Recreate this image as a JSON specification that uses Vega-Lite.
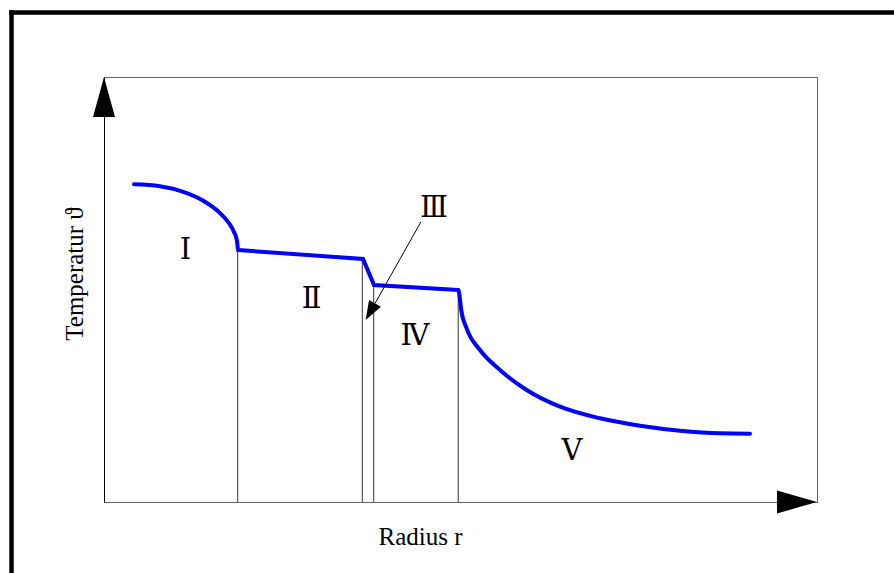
{
  "$schema": "https://vega.github.io/schema/vega-lite/v6.json",
  "width": 713,
  "height": 425,
  "autosize": {"type": "none"},
  "padding": {"left": 104, "top": 77, "right": 77, "bottom": 71},
  "background": "white",
  "view": {"stroke": "#666", "strokeWidth": 1},
  "datasets": {
    "curves": [
      {"seg": "A", "r": 4.21, "T": 74.75},
      {"seg": "A", "r": 7.85, "T": 74.31},
      {"seg": "A", "r": 11.12, "T": 72.96},
      {"seg": "A", "r": 13.93, "T": 70.87},
      {"seg": "A", "r": 16.27, "T": 67.98},
      {"seg": "A", "r": 17.39, "T": 65.93},
      {"seg": "A", "r": 18.23, "T": 63.55},
      {"seg": "A", "r": 18.65, "T": 61.46},
      {"seg": "A", "r": 18.79, "T": 59.29},
      {"seg": "C", "r": 49.72, "T": 49.88},
      {"seg": "C", "r": 49.86, "T": 48.6},
      {"seg": "C", "r": 50.1, "T": 45.18},
      {"seg": "C", "r": 50.87, "T": 40.8},
      {"seg": "C", "r": 52.73, "T": 35.76},
      {"seg": "C", "r": 55.54, "T": 31.06},
      {"seg": "C", "r": 59.28, "T": 26.35},
      {"seg": "C", "r": 63.96, "T": 22.42},
      {"seg": "C", "r": 69.57, "T": 19.69},
      {"seg": "C", "r": 75.18, "T": 17.95},
      {"seg": "C", "r": 80.79, "T": 16.78},
      {"seg": "C", "r": 86.4, "T": 16.16},
      {"seg": "C", "r": 90.6, "T": 16.07}
    ],
    "straight": [
      {"r": 18.79, "T": 59.29},
      {"r": 36.33, "T": 57.18},
      {"r": 37.87, "T": 51.06},
      {"r": 49.72, "T": 49.88}
    ],
    "bounds": [
      {"r": 18.75, "T": 0, "T2": 59.29},
      {"r": 36.23, "T": 0, "T2": 57.18},
      {"r": 37.83, "T": 0, "T2": 51.06},
      {"r": 49.68, "T": 0, "T2": 49.88}
    ],
    "labels": [
      {"r": 11.42, "T": 59.29, "label": "Ⅰ"},
      {"r": 29.13, "T": 47.65, "label": "Ⅱ"},
      {"r": 46.28, "T": 69.29, "label": "Ⅲ"},
      {"r": 43.62, "T": 39.06, "label": "Ⅳ"},
      {"r": 65.64, "T": 12.0, "label": "Ⅴ"}
    ],
    "pointer": [
      {"r": 44.46, "T": 65.95, "r2": 38.01, "T2": 46.71}
    ],
    "pointerHead": [
      {"r": 36.7, "T": 42.82}
    ],
    "yArrow": [{"r": 0, "T": 100}],
    "xArrow": [{"r": 100, "T": 0}],
    "frame": [
      {"r": -12.97, "T": -17, "r2": -12.97, "T2": 115.18},
      {"r": -12.97, "T": 115.18, "r2": 111, "T2": 115.18}
    ]
  },
  "layer": [
    {
      "data": {"name": "frame"},
      "mark": {"type": "rule", "color": "black", "strokeWidth": 4.5, "strokeCap": "square"},
      "encoding": {
        "x": {
          "field": "r", "type": "quantitative",
          "scale": {"domain": [0, 100], "nice": false, "zero": false},
          "axis": {
            "title": "Radius r", "labels": false, "ticks": false, "grid": false,
            "domain": true, "domainColor": "#666", "domainWidth": 1,
            "titleFont": "Liberation Serif", "titleFontSize": 25, "titleFontWeight": "normal",
            "titleColor": "black", "titleX": 316, "titleY": 42, "titleAlign": "center",
            "titleBaseline": "alphabetic"
          }
        },
        "y": {
          "field": "T", "type": "quantitative",
          "scale": {"domain": [0, 100], "nice": false, "zero": false},
          "axis": {
            "title": "Temperatur ϑ", "labels": false, "ticks": false, "grid": false,
            "domain": true, "domainColor": "black", "domainWidth": 1,
            "titleFont": "Liberation Serif", "titleFontSize": 25, "titleFontWeight": "normal",
            "titleColor": "black", "titleX": -22, "titleY": 196.5, "titleAlign": "center",
            "titleBaseline": "alphabetic", "titleAngle": -90
          }
        },
        "x2": {"field": "r2"},
        "y2": {"field": "T2"}
      }
    },
    {
      "data": {"name": "bounds"},
      "mark": {"type": "rule", "color": "#333", "strokeWidth": 1},
      "encoding": {
        "x": {"field": "r", "type": "quantitative"},
        "y": {"field": "T", "type": "quantitative"},
        "y2": {"field": "T2"}
      }
    },
    {
      "data": {"name": "curves"},
      "mark": {"type": "line", "color": "#0000ff", "strokeWidth": 4, "strokeJoin": "round", "strokeCap": "round", "interpolate": "monotone"},
      "encoding": {
        "x": {"field": "r", "type": "quantitative"},
        "y": {"field": "T", "type": "quantitative"},
        "detail": {"field": "seg"}
      }
    },
    {
      "data": {"name": "straight"},
      "mark": {"type": "line", "color": "#0000ff", "strokeWidth": 4, "strokeJoin": "miter", "strokeCap": "butt"},
      "encoding": {
        "x": {"field": "r", "type": "quantitative"},
        "y": {"field": "T", "type": "quantitative"}
      }
    },
    {
      "data": {"name": "pointer"},
      "mark": {"type": "rule", "color": "black", "strokeWidth": 1},
      "encoding": {
        "x": {"field": "r", "type": "quantitative"},
        "y": {"field": "T", "type": "quantitative"},
        "x2": {"field": "r2"},
        "y2": {"field": "T2"}
      }
    },
    {
      "data": {"name": "pointerHead"},
      "mark": {"type": "point", "shape": "M0,0L0.72,2L-0.72,2Z", "size": 361, "angle": 209.4, "filled": true, "color": "black", "opacity": 1, "strokeWidth": 0},
      "encoding": {
        "x": {"field": "r", "type": "quantitative"},
        "y": {"field": "T", "type": "quantitative"}
      }
    },
    {
      "data": {"name": "yArrow"},
      "mark": {"type": "point", "shape": "M0,0L0.55,2L-0.55,2Z", "size": 1600, "filled": true, "color": "black", "opacity": 1, "strokeWidth": 0},
      "encoding": {
        "x": {"field": "r", "type": "quantitative"},
        "y": {"field": "T", "type": "quantitative"}
      }
    },
    {
      "data": {"name": "xArrow"},
      "mark": {"type": "point", "shape": "M0,0L-2,-0.57L-2,0.57Z", "size": 1600, "filled": true, "color": "black", "opacity": 1, "strokeWidth": 0},
      "encoding": {
        "x": {"field": "r", "type": "quantitative"},
        "y": {"field": "T", "type": "quantitative"}
      }
    },
    {
      "data": {"name": "labels"},
      "mark": {"type": "text", "font": "DejaVu Serif", "fontSize": 29, "align": "center", "baseline": "middle", "color": "black"},
      "encoding": {
        "x": {"field": "r", "type": "quantitative"},
        "y": {"field": "T", "type": "quantitative"},
        "text": {"field": "label"}
      }
    }
  ]
}
